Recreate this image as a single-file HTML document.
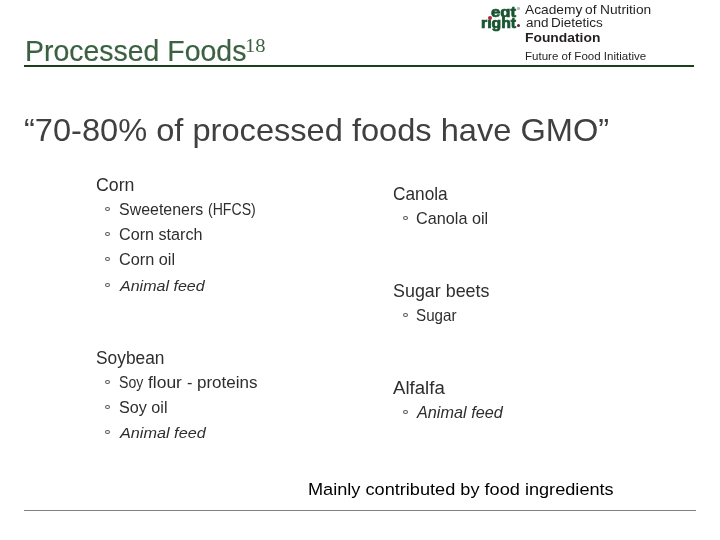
<!DOCTYPE html>
<html><head><meta charset="utf-8"><style>
html,body{margin:0;padding:0;background:#fff;}
body{width:720px;height:540px;position:relative;overflow:hidden;}
.t{position:absolute;white-space:nowrap;transform-origin:0 0;}
.b{position:absolute;width:3px;height:2px;border:1px solid #555;border-radius:50%;}
.line1{position:absolute;left:24px;top:65px;width:670px;height:2px;background:#1a401c;}
.line2{position:absolute;left:24px;top:510px;width:672px;height:1px;background:#7f7f7f;}
</style></head><body>
<div id="c" style="position:absolute;left:0;top:0;width:720px;height:540px;will-change:opacity;">
<div class="line1"></div>
<div class="line2"></div>
<div style="position:absolute;left:487.8px;top:15.7px;width:4px;height:4px;border-radius:50%;background:#b3243c"></div>
<div style="position:absolute;left:516.5px;top:23.9px;width:3.6px;height:3.6px;border-radius:50%;background:#6a1b47"></div>
<div style="position:absolute;left:517px;top:7px;width:2.6px;height:2.6px;border-radius:50%;background:#b8b8b8"></div>
<div class="t" style="left:24.65px;top:36px;font-family:'Liberation Sans', sans-serif;font-size:29.38px;line-height:29px;font-weight:normal;font-style:normal;color:#3b6141;transform:scaleX(0.9684);-webkit-text-stroke:0.15px #3b6141">Processed Foods</div>
<div class="t" style="left:245.20px;top:36px;font-family:'Liberation Serif', serif;font-size:19.55px;line-height:20px;font-weight:normal;font-style:normal;color:#3b6141;transform:scaleX(1.0523);">18</div>
<div class="t" style="left:491.26px;top:5px;font-family:'Liberation Sans', sans-serif;font-size:13.95px;line-height:14px;font-weight:bold;font-style:normal;color:#1a5531;transform:scaleX(1.1918);-webkit-text-stroke:0.7px #1a5531">eɑt</div>
<div class="t" style="left:481.05px;top:17px;font-family:'Liberation Sans', sans-serif;font-size:13.79px;line-height:14px;font-weight:bold;font-style:normal;color:#1a5531;transform:scaleX(1.1465);-webkit-text-stroke:0.7px #1a5531">rıght</div>
<div class="t" style="left:525.09px;top:4px;font-family:'Liberation Sans', sans-serif;font-size:12.14px;line-height:12px;font-weight:normal;font-style:normal;color:#231f20;transform:scaleX(1.1347);">Academy</div>
<div class="t" style="left:585.16px;top:4px;font-family:'Liberation Sans', sans-serif;font-size:12.14px;line-height:12px;font-weight:normal;font-style:normal;color:#231f20;transform:scaleX(1.1347);">of</div>
<div class="t" style="left:600.44px;top:4px;font-family:'Liberation Sans', sans-serif;font-size:12.14px;line-height:12px;font-weight:normal;font-style:normal;color:#231f20;transform:scaleX(1.1347);">Nutrition</div>
<div class="t" style="left:526.02px;top:17px;font-family:'Liberation Sans', sans-serif;font-size:11.86px;line-height:12px;font-weight:normal;font-style:normal;color:#231f20;transform:scaleX(1.1398);">and</div>
<div class="t" style="left:550.61px;top:17px;font-family:'Liberation Sans', sans-serif;font-size:11.86px;line-height:12px;font-weight:normal;font-style:normal;color:#231f20;transform:scaleX(1.1398);">Dietetics</div>
<div class="t" style="left:525.08px;top:32px;font-family:'Liberation Sans', sans-serif;font-size:11.86px;line-height:12px;font-weight:bold;font-style:normal;color:#231f20;transform:scaleX(1.1674);">Foundation</div>
<div class="t" style="left:525.05px;top:51px;font-family:'Liberation Sans', sans-serif;font-size:10.62px;line-height:11px;font-weight:normal;font-style:normal;color:#231f20;transform:scaleX(1.0870);">Future of Food Initiative</div>
<div class="t" style="left:23.82px;top:115px;font-family:'Liberation Sans', sans-serif;font-size:30.48px;line-height:30px;font-weight:normal;font-style:normal;color:#404040;transform:scaleX(1.0697);">“70-80% of processed foods have GMO”</div>
<div class="t" style="left:95.99px;top:176px;font-family:'Liberation Sans', sans-serif;font-size:18.03px;line-height:18px;font-weight:normal;font-style:normal;color:#2e2e2e;transform:scaleX(0.9841);">Corn</div>
<div class="t" style="left:119.28px;top:202px;font-family:'Liberation Sans', sans-serif;font-size:15.86px;line-height:16px;font-weight:normal;font-style:normal;color:#2e2e2e;transform:scaleX(1.0063);">Sweeteners</div>
<div class="t" style="left:208.12px;top:202px;font-family:'Liberation Sans', sans-serif;font-size:15.86px;line-height:16px;font-weight:normal;font-style:normal;color:#2e2e2e;transform:scaleX(0.8885);">(HFCS)</div>
<div class="t" style="left:118.97px;top:227px;font-family:'Liberation Sans', sans-serif;font-size:15.59px;line-height:16px;font-weight:normal;font-style:normal;color:#2e2e2e;transform:scaleX(1.0375);">Corn starch</div>
<div class="t" style="left:118.97px;top:251px;font-family:'Liberation Sans', sans-serif;font-size:16.41px;line-height:16px;font-weight:normal;font-style:normal;color:#2e2e2e;transform:scaleX(0.9924);">Corn oil</div>
<div class="t" style="left:119.78px;top:278px;font-family:'Liberation Sans', sans-serif;font-size:15.31px;line-height:15px;font-weight:normal;font-style:italic;color:#2e2e2e;transform:scaleX(1.0487);">Animal feed</div>
<div class="t" style="left:95.92px;top:348px;font-family:'Liberation Sans', sans-serif;font-size:18.76px;line-height:19px;font-weight:normal;font-style:normal;color:#2e2e2e;transform:scaleX(0.9252);">Soybean</div>
<div class="t" style="left:119.06px;top:374px;font-family:'Liberation Sans', sans-serif;font-size:16.97px;line-height:17px;font-weight:normal;font-style:normal;color:#2e2e2e;transform:scaleX(0.8334);">Soy</div>
<div class="t" style="left:148.26px;top:374px;font-family:'Liberation Sans', sans-serif;font-size:16.97px;line-height:17px;font-weight:normal;font-style:normal;color:#2e2e2e;transform:scaleX(1.0280);">flour</div>
<div class="t" style="left:187.29px;top:374px;font-family:'Liberation Sans', sans-serif;font-size:16.97px;line-height:17px;font-weight:normal;font-style:normal;color:#2e2e2e;transform:scaleX(0.9623);">-</div>
<div class="t" style="left:197.09px;top:374px;font-family:'Liberation Sans', sans-serif;font-size:16.97px;line-height:17px;font-weight:normal;font-style:normal;color:#2e2e2e;transform:scaleX(1.0028);">proteins</div>
<div class="t" style="left:118.57px;top:399px;font-family:'Liberation Sans', sans-serif;font-size:16.97px;line-height:17px;font-weight:normal;font-style:normal;color:#2e2e2e;transform:scaleX(0.9529);">Soy oil</div>
<div class="t" style="left:119.79px;top:425px;font-family:'Liberation Sans', sans-serif;font-size:15.45px;line-height:15px;font-weight:normal;font-style:italic;color:#2e2e2e;transform:scaleX(1.0514);">Animal feed</div>
<div class="t" style="left:392.82px;top:185px;font-family:'Liberation Sans', sans-serif;font-size:17.52px;line-height:18px;font-weight:normal;font-style:normal;color:#2e2e2e;transform:scaleX(0.9852);">Canola</div>
<div class="t" style="left:415.87px;top:210px;font-family:'Liberation Sans', sans-serif;font-size:16.14px;line-height:16px;font-weight:normal;font-style:normal;color:#2e2e2e;transform:scaleX(1.0063);">Canola oil</div>
<div class="t" style="left:392.50px;top:282px;font-family:'Liberation Sans', sans-serif;font-size:17.52px;line-height:18px;font-weight:normal;font-style:normal;color:#2e2e2e;transform:scaleX(1.0211);">Sugar beets</div>
<div class="t" style="left:416.22px;top:307px;font-family:'Liberation Sans', sans-serif;font-size:16.89px;line-height:17px;font-weight:normal;font-style:normal;color:#2e2e2e;transform:scaleX(0.8997);">Sugar</div>
<div class="t" style="left:393.25px;top:379px;font-family:'Liberation Sans', sans-serif;font-size:17.66px;line-height:18px;font-weight:normal;font-style:normal;color:#2e2e2e;transform:scaleX(1.0543);">Alfalfa</div>
<div class="t" style="left:416.79px;top:405px;font-family:'Liberation Sans', sans-serif;font-size:15.86px;line-height:16px;font-weight:normal;font-style:italic;color:#2e2e2e;transform:scaleX(1.0240);">Animal feed</div>
<div class="t" style="left:307.80px;top:481px;font-family:'Liberation Sans', sans-serif;font-size:17.10px;line-height:17px;font-weight:normal;font-style:normal;color:#000000;transform:scaleX(1.0617);">Mainly contributed by food ingredients</div>
<div class="b" style="left:105px;top:207px"></div>
<div class="b" style="left:105px;top:232px"></div>
<div class="b" style="left:105px;top:257px"></div>
<div class="b" style="left:105px;top:283px"></div>
<div class="b" style="left:105px;top:380px"></div>
<div class="b" style="left:105px;top:405px"></div>
<div class="b" style="left:105px;top:430px"></div>
<div class="b" style="left:403px;top:216px"></div>
<div class="b" style="left:403px;top:313px"></div>
<div class="b" style="left:403px;top:410px"></div>
</div>
</body></html>
